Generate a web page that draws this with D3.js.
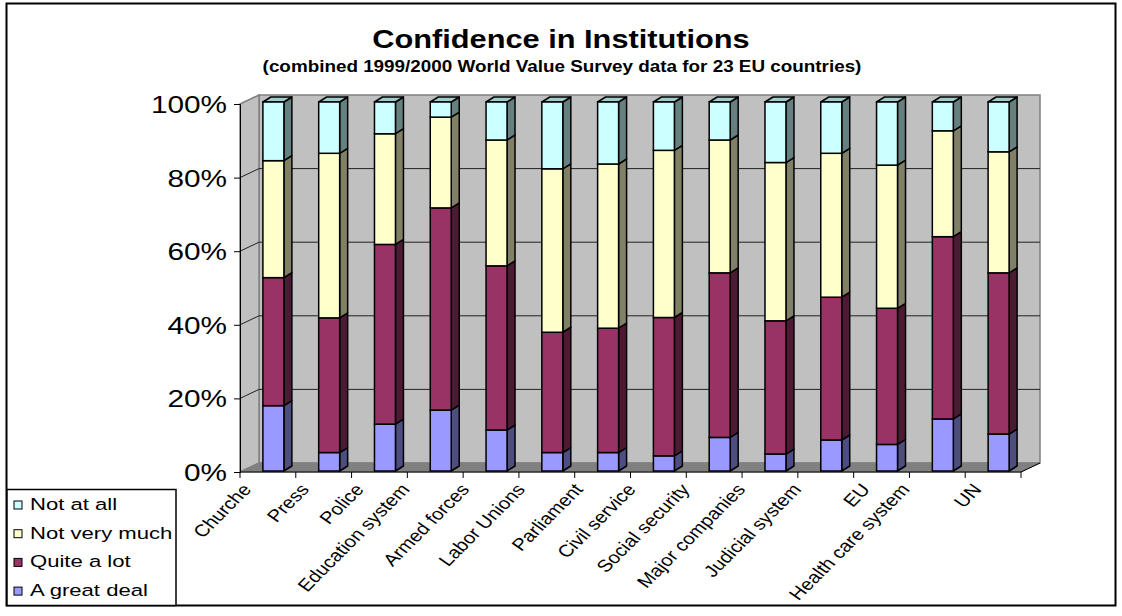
<!DOCTYPE html>
<html><head><meta charset="utf-8">
<script src="https://cdn.jsdelivr.net/npm/d3@7"></script>
<style>
html,body{margin:0;padding:0;background:#fff;}
text{font-family:"Liberation Sans",Arial,sans-serif;fill:#000;}
</style></head>
<body>
<svg id="chart" width="1122" height="616"></svg>
<script>
// ---- data (percent) ----
const categories = ["Churche","Press","Police","Education system","Armed forces","Labor Unions","Parliament","Civil service","Social security","Major companies","Judicial system","EU","Health care system","UN"];
const greatDeal   = [17.7, 5.0,12.7,16.5,11.1, 5.0, 5.0, 4.1, 9.1, 4.6, 8.4, 7.2,14.1,10.0];
const quiteALot   = [34.7,36.5,48.7,54.8,44.5,32.6,33.7,37.5,44.6,36.1,38.7,36.9,49.4,43.7];
const notVeryMuch = [31.7,44.6,30.0,24.6,34.1,44.3,44.5,45.3,36.0,42.9,39.0,38.8,28.7,32.8];
const notAtAll    = [15.9,13.9, 8.6, 4.1,10.3,18.1,16.8,13.1,10.3,16.4,13.9,17.1, 7.8,13.5];
const seriesNames = ["A great deal","Quite a lot","Not very much","Not at all"];
const yTickValues = [0,0.2,0.4,0.6,0.8,1];
const titleText = "Confidence in Institutions";
const subtitleText = "(combined 1999/2000 World Value Survey data for 23 EU countries)";

// ---- styles ----
const frontCol = {"A great deal":"#9999FF","Quite a lot":"#993366","Not very much":"#FFFFCC","Not at all":"#CCFFFF"};
const sideCol  = {"A great deal":"#4D4D80","Quite a lot":"#4D1A33","Not very much":"#808066","Not at all":"#668080"};
const topCol   = {"A great deal":"#B8B8FF","Quite a lot":"#B8708F","Not very much":"#E6E6B8","Not at all":"#9FCDCD"};

const rows = categories.map((c,i)=>({cat:c,
  "A great deal":greatDeal[i],"Quite a lot":quiteALot[i],"Not very much":notVeryMuch[i],"Not at all":notAtAll[i]}));
const stacked = d3.stack().keys(seriesNames).offset(d3.stackOffsetExpand)(rows);

const svg = d3.select("#chart");
const font = '"Liberation Sans",Arial,sans-serif';

// geometry
const x = d3.scaleBand().domain(categories).range([240,1021]).paddingInner(0).paddingOuter(0);
const yA = d3.scaleLinear().domain([0,1]).range([472,104]);   // front axis
const yB = d3.scaleLinear().domain([0,1]).range([471,102]);   // bar front faces
const DX = 19, DY = -9;          // wall depth
const BDX = 8, BDY = -5;         // bar depth
const barW = x.bandwidth()*0.376, barShift = 5.5;
const x0 = x.range()[0], x1 = x.range()[1];

// outer frame
svg.append("rect").attr("x",6.5).attr("y",3.5).attr("width",1109).attr("height",602)
  .attr("fill","#fff").attr("stroke","#000").attr("stroke-width",2);

function stext(g, tx, ty, str, size, sx, anchor, weight){
  return g.append("text").attr("transform",`translate(${tx},${ty}) scale(${sx},1)`)
    .attr("text-anchor",anchor).attr("font-size",size).attr("font-weight",weight||"normal").text(str);
}
stext(svg, 561, 48, titleText, 25, 1.23, "middle", "bold");
stext(svg, 562, 72, subtitleText, 17, 1.11, "middle", "bold");

// walls
const wall = svg.append("g");
const yTop = yA(1), yBot = yA(0);
wall.append("polygon").attr("points",[[x0+DX,yTop+DY],[x1+DX,yTop+DY],[x1+DX,yBot+DY],[x0+DX,yBot+DY]].join(" "))
  .attr("fill","#C0C0C0").attr("stroke","#808080").attr("stroke-width",1.5);
wall.append("polygon").attr("points",[[x0,yTop],[x0+DX,yTop+DY],[x0+DX,yBot+DY],[x0,yBot]].join(" "))
  .attr("fill","#C0C0C0").attr("stroke","#808080").attr("stroke-width",1.5);
wall.append("polygon").attr("points",[[x0,yBot],[x0+DX,yBot+DY],[x1+DX,yBot+DY],[x1,yBot]].join(" "))
  .attr("fill","#808080").attr("stroke","#808080").attr("stroke-width",1);

// gridlines
const grid = yTickValues.filter(v=>v>0 && v<1);
wall.selectAll(".gb").data(grid).join("line").attr("class","gb")
  .attr("x1",x0+DX).attr("x2",x1+DX).attr("y1",d=>yA(d)+DY).attr("y2",d=>yA(d)+DY)
  .attr("stroke","#222").attr("stroke-width",1);
wall.selectAll(".gs").data(grid).join("line").attr("class","gs")
  .attr("x1",x0).attr("x2",x0+DX).attr("y1",d=>yA(d)).attr("y2",d=>yA(d)+DY)
  .attr("stroke","#222").attr("stroke-width",1);

// y axis
const yAxis = svg.append("g").attr("transform",`translate(${x0},0)`)
  .call(d3.axisLeft(yA).tickValues(yTickValues).tickSize(6).tickFormat(d3.format(".0%")));
yAxis.select(".domain").attr("stroke","#000");
yAxis.selectAll(".tick line").attr("stroke","#000");
yAxis.selectAll(".tick text").attr("x",0).attr("dy","0.35em")
  .attr("transform","translate(-13,0) scale(1.24,1)")
  .attr("font-size",24).attr("font-family",font).attr("fill","#000");

// bars
const bars = svg.append("g");
stacked.forEach((layer,li)=>{
  const key = layer.key;
  const isTop = li === stacked.length-1;
  layer.forEach((d,i)=>{
    const bx = x(categories[i]) + (x.bandwidth()-barW)/2 + barShift;
    const ya = yB(d[1]), yb = yB(d[0]);
    const g = bars.append("g");
    g.append("polygon").attr("points",[[bx+barW,ya],[bx+barW+BDX,ya+BDY],[bx+barW+BDX,yb+BDY],[bx+barW,yb]].join(" "))
      .attr("fill",sideCol[key]).attr("stroke","#000").attr("stroke-width",1.5).attr("stroke-linejoin","round");
    if(isTop){
      g.append("polygon").attr("points",[[bx,ya],[bx+BDX,ya+BDY],[bx+barW+BDX,ya+BDY],[bx+barW,ya]].join(" "))
        .attr("fill",topCol[key]).attr("stroke","#000").attr("stroke-width",1.5).attr("stroke-linejoin","round");
    }
    g.append("rect").attr("x",bx).attr("y",ya).attr("width",barW).attr("height",yb-ya)
      .attr("fill",frontCol[key]).attr("stroke","#000").attr("stroke-width",1.5);
  });
});

// x axis
const xa = svg.append("g");
xa.append("line").attr("x1",x0).attr("x2",x1).attr("y1",yBot).attr("y2",yBot).attr("stroke","#000");
xa.append("line").attr("x1",x1).attr("x2",x1+DX).attr("y1",yBot).attr("y2",yBot+DY).attr("stroke","#000");
xa.selectAll(".xt").data(d3.range(categories.length+1)).join("line").attr("class","xt")
  .attr("x1",i=>x0+i*x.step()).attr("x2",i=>x0+i*x.step()).attr("y1",yBot).attr("y2",yBot+6).attr("stroke","#000");
xa.selectAll(".xl").data(categories).join("text").attr("class","xl")
  .attr("transform",d=>`translate(${x(d)+x.bandwidth()/2-(20+d.length)},482) scale(1.2,1) rotate(-50)`)
  .attr("text-anchor","end").attr("dominant-baseline","hanging")
  .attr("font-size",17).text(d=>d);

// legend
const lg = svg.append("g");
lg.append("rect").attr("x",7).attr("y",489.5).attr("width",169).attr("height",116)
  .attr("fill","#fff").attr("stroke","#000").attr("stroke-width",1.5);
const legendOrder = seriesNames.slice().reverse();
legendOrder.forEach((k,i)=>{
  const by = 510 + i*28.7;
  lg.append("rect").attr("x",14).attr("y",by-9).attr("width",8).attr("height",8)
    .attr("fill",frontCol[k]).attr("stroke","#000").attr("stroke-width",1);
  stext(lg, 30, by, k, 17, 1.3, "start");
});
</script>
</body></html>
